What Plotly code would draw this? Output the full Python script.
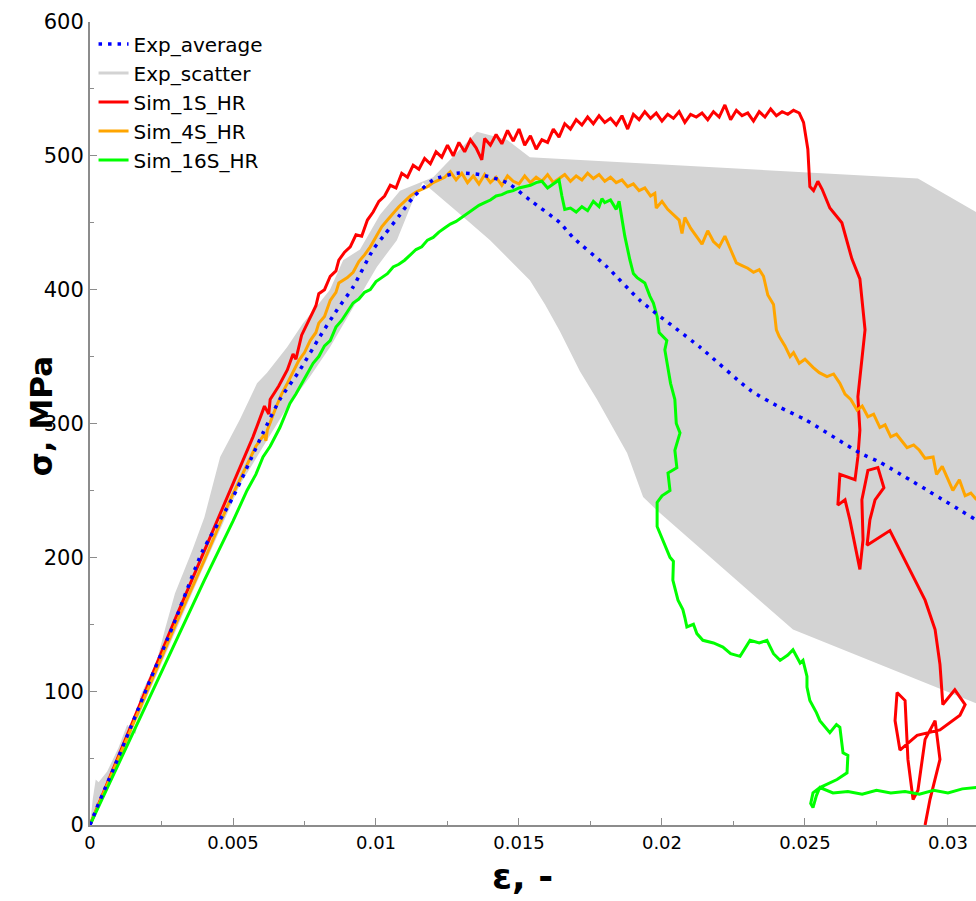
import plotly.graph_objects as go

# ---------------- data (strain [-], stress [MPa]) ----------------
avg_eps = [0, 0.00024, 0.0005, 0.001, 0.002, 0.003, 0.00392, 0.0050, 0.00605, 0.00664, 0.00734,
           0.00804, 0.00864, 0.0092, 0.0099, 0.0103, 0.01084, 0.0113, 0.0120, 0.01283, 0.01364,
           0.01458, 0.01538, 0.01643, 0.01689, 0.01808, 0.01923, 0.02133, 0.02308, 0.02413,
           0.0250, 0.02692, 0.02762, 0.03098]
avg_sig = [0, 13, 26, 51, 103, 154, 204, 245, 293, 318, 340,
           365, 385, 402, 430, 441, 456, 469, 482, 487, 486,
           480, 467, 450, 439, 417, 392, 357, 325, 312,
           303, 278, 271, 228]

sc_up_eps = [0, 0.0001, 0.0002, 0.0003, 0.0006, 0.0010, 0.0013, 0.0016, 0.00175, 0.00234, 0.00262,
             0.00297, 0.00357, 0.0040, 0.00455, 0.00524, 0.00584, 0.00619, 0.00689, 0.00745,
             0.00839, 0.00885, 0.00944, 0.01014, 0.01084, 0.01154, 0.0120, 0.01353, 0.01458,
             0.01538, 0.01713, 0.02895, 0.03098]
sc_up_sig = [0, 20, 34, 32, 40, 58, 75, 68, 96, 123, 146,
             173, 205, 230, 275, 303, 330, 338, 357, 375,
             400, 422, 430, 456, 474, 480, 484, 518, 512,
             499, 497, 483, 458]
sc_lo_eps = [0.03098, 0.02458, 0.01983, 0.01934, 0.01878, 0.01773, 0.01713, 0.01643, 0.01591,
             0.01538, 0.01399, 0.01285, 0.01164, 0.0113, 0.01073, 0.01003, 0.0092, 0.00839,
             0.00769, 0.00689, 0.00612, 0.00524, 0.00385, 0.0021, 0.0007, 0]
sc_lo_sig = [91, 146, 235, 245, 278, 318, 339, 369, 389,
             407, 437, 458, 480, 467, 437, 417, 387, 357,
             335, 312, 285, 254, 187, 101, 30, 0]

s1_eps = [0, 0.001, 0.002, 0.003, 0.004, 0.0048, 0.0057, 0.00605, 0.0061, 0.00625, 0.0063,
          0.0066, 0.0069, 0.0071, 0.0072, 0.0074, 0.0077, 0.0079, 0.0080, 0.0082, 0.0084, 0.0086,
          0.0087, 0.0089, 0.0091, 0.0093, 0.0095, 0.0097, 0.0099, 0.0101, 0.0103, 0.0105, 0.0107,
          0.0109, 0.0111, 0.0113, 0.0115, 0.0117, 0.0119, 0.0121, 0.0123, 0.0125, 0.0127, 0.0129,
          0.0131, 0.0133, 0.0135, 0.0137, 0.0138, 0.0140, 0.0142, 0.0144, 0.0146, 0.0148, 0.0150,
          0.0152, 0.0154, 0.0156, 0.0158, 0.0160, 0.0162, 0.0164, 0.0166, 0.0168, 0.0170, 0.0172,
          0.0174, 0.0176, 0.0178, 0.0180, 0.0182, 0.0184, 0.0186, 0.0188, 0.0190, 0.0192, 0.0194,
          0.0196, 0.0198, 0.0200, 0.0202, 0.0204, 0.0206, 0.0208, 0.0210, 0.0212, 0.0214, 0.0216,
          0.0218, 0.0220, 0.0222, 0.0224, 0.0226, 0.0228, 0.0230, 0.0232, 0.0234, 0.0236, 0.0238,
          0.0240, 0.0242, 0.0244, 0.0246, 0.0248, 0.02495, 0.0251, 0.02517, 0.0253, 0.02545,
          0.0256, 0.02587, 0.02629, 0.02664, 0.02692, 0.0271, 0.02699, 0.02685, 0.02692, 0.02685,
          0.02675, 0.02622, 0.02615, 0.0264, 0.02657, 0.02675, 0.02692, 0.02703, 0.02699, 0.0272,
          0.02755, 0.02776, 0.02745, 0.02727, 0.02717, 0.02797, 0.02878, 0.0292, 0.02955, 0.02972,
          0.02982, 0.03024, 0.0306, 0.03042, 0.02972, 0.02892, 0.02832, 0.02815, 0.02822, 0.0285,
          0.0286, 0.02878, 0.02895, 0.0292, 0.02955, 0.02972, 0.02937, 0.0292]
s1_sig = [0, 52, 104, 155, 205, 245, 290, 310, 313, 307, 318,
          328, 340, 352, 348, 366, 380, 388, 397, 400, 410, 414,
          422, 428, 432, 441, 440, 452, 458, 466, 470, 478, 476,
          487, 484, 493, 490, 498, 494, 503, 499, 508, 500, 510,
          503, 512, 506, 497, 513, 508, 516, 509, 519, 511, 520,
          508, 515, 505, 512, 510, 520, 514, 524, 520, 527, 523,
          529, 524, 530, 525, 528, 523, 530, 520, 531, 527, 533,
          528, 532, 526, 531, 528, 533, 525, 531, 529, 532, 527,
          533, 529, 538, 527, 534, 530, 532, 526, 533, 529, 535,
          530, 533, 531, 534, 532, 525, 505, 477, 474, 481,
          475, 461, 450, 423, 408, 370, 347, 320, 295, 275,
          258, 262, 239, 243, 228, 209, 191, 213, 243, 265,
          267, 252, 243, 228, 209, 220, 185, 168, 146, 120,
          90, 101, 90, 82, 71, 67, 56, 78, 99, 93,
          49, 19, 26, 64, 78, 49, 19, 0]

s4_eps = [0, 0.001, 0.002, 0.003, 0.004, 0.0049, 0.0058, 0.0061, 0.00615, 0.0062, 0.0065,
          0.0067, 0.0069, 0.0071, 0.0073, 0.0075, 0.0077, 0.0079, 0.0080, 0.0082, 0.0084, 0.0086,
          0.0087, 0.0090, 0.0092, 0.0094, 0.0096, 0.0098, 0.0100, 0.0102, 0.0104, 0.0106, 0.0108,
          0.0110, 0.0112, 0.0114, 0.0116, 0.0118, 0.0120, 0.0122, 0.0124, 0.0126, 0.0128, 0.0130,
          0.0132, 0.0134, 0.0136, 0.0138, 0.0140, 0.0142, 0.0144, 0.0146, 0.0148, 0.0150, 0.0152,
          0.0154, 0.0156, 0.0158, 0.0160, 0.0162, 0.0164, 0.0166, 0.0168, 0.0170, 0.0172, 0.0174,
          0.0176, 0.0178, 0.0180, 0.0182, 0.0184, 0.0186, 0.0188, 0.0190, 0.0192, 0.0194, 0.0196,
          0.01975, 0.0198, 0.0200, 0.0202, 0.0204, 0.0206, 0.0207, 0.0208, 0.0210, 0.0212, 0.0214,
          0.0216, 0.0218, 0.0220, 0.0222, 0.0224, 0.0226, 0.0228, 0.0230, 0.0232, 0.0234, 0.02355,
          0.0237, 0.0239, 0.0240, 0.0241, 0.0243, 0.02448, 0.0246, 0.0248, 0.0250, 0.02528, 0.0255,
          0.02577, 0.0260, 0.02622, 0.0264, 0.0266, 0.02682, 0.0270, 0.0272, 0.0274, 0.02762,
          0.0278, 0.0280, 0.0282, 0.02857, 0.0288, 0.0290, 0.0292, 0.02948, 0.0296, 0.0298,
          0.03017, 0.0304, 0.0306, 0.0308, 0.0310]
s4_sig = [0, 50, 100, 150, 198, 243, 283, 292, 287, 295, 312,
          322, 330, 338, 347, 353, 362, 368, 375, 380, 392, 398,
          405, 409, 413, 421, 426, 432, 440, 447, 452, 457, 462,
          466, 470, 473, 475, 477, 480, 482, 484, 488, 482, 487,
          480, 485, 479, 486, 480, 484, 478, 485, 481, 479, 485,
          480, 484, 481, 486, 480, 483, 486, 481, 485, 482, 487,
          483, 486, 481, 484, 480, 482, 477, 479, 474, 476, 470,
          472, 461, 466, 460, 456, 452, 442, 454, 446, 440, 434,
          444, 436, 432, 440, 430, 420, 418, 416, 413, 415, 410,
          396, 389, 370, 365, 358, 350, 353, 345, 348, 342, 338,
          335, 337, 330, 322, 318, 310, 313, 305, 307, 297,
          299, 290, 292, 282, 284, 280, 274, 275, 262, 268,
          250, 258, 246, 248, 243]

s16_eps = [0, 0.001, 0.002, 0.003, 0.004, 0.0045, 0.0050, 0.00549, 0.0058, 0.00605, 0.0063,
           0.00664, 0.0068, 0.00699, 0.0072, 0.00745, 0.0076, 0.0078, 0.0080, 0.0082, 0.0084,
           0.0086, 0.0088, 0.0090, 0.0092, 0.0094, 0.0096, 0.0098, 0.0100, 0.0102, 0.0104, 0.0106,
           0.0108, 0.0110, 0.0112, 0.0114, 0.0116, 0.0118, 0.0120, 0.0122, 0.0124, 0.0126, 0.0128,
           0.0130, 0.0132, 0.0134, 0.0136, 0.0138, 0.0140, 0.0142, 0.0144, 0.0146, 0.0148, 0.0150,
           0.0152, 0.0154, 0.0156, 0.0158, 0.0160, 0.0162, 0.0164, 0.0165, 0.0166, 0.0168, 0.0170,
           0.0172, 0.0174, 0.0176, 0.0178, 0.0179, 0.0180, 0.0182, 0.0184, 0.0185, 0.01864, 0.0187,
           0.01888, 0.0190, 0.01913, 0.0194, 0.01958, 0.0197, 0.01983, 0.0199, 0.02017, 0.0201,
           0.0203, 0.02045, 0.0205, 0.02063, 0.02045, 0.02052, 0.02021, 0.02028, 0.0200, 0.01983,
           0.01983, 0.02003, 0.02028, 0.0204, 0.02038, 0.02056, 0.02073, 0.0208, 0.02087, 0.0211,
           0.02122, 0.02143, 0.0218, 0.02213, 0.0224, 0.02273, 0.0229, 0.02308, 0.0234, 0.02367,
           0.0239, 0.02413, 0.0244, 0.02458, 0.02483, 0.02493, 0.02507, 0.02507, 0.02517, 0.0254,
           0.02552, 0.02587, 0.0261, 0.02622, 0.02633, 0.0265, 0.02647, 0.02612, 0.02552, 0.02528,
           0.0252, 0.02528, 0.0254, 0.02552, 0.02598, 0.0265, 0.0270, 0.0275, 0.0280, 0.0285,
           0.0290, 0.0295, 0.0300, 0.0305, 0.0310]
s16_sig = [0, 46, 92, 138, 183, 205, 227, 250, 262, 275, 283,
           297, 305, 315, 322, 332, 337, 345, 350, 358, 362,
           372, 377, 384, 390, 393, 398, 400, 406, 409, 412, 417,
           419, 422, 426, 430, 432, 437, 439, 443, 446, 449, 451,
           454, 457, 460, 463, 465, 467, 470, 471, 473, 474, 476,
           477, 478, 480, 481, 476, 479, 482, 470, 460, 461, 458,
           462, 459, 466, 462, 468, 465, 467, 460, 466, 447, 440,
           422, 412, 409, 405, 395, 390, 380, 368, 362, 355,
           330, 318, 300, 293, 280, 267, 263, 250, 246, 241,
           223, 213, 200, 197, 183, 168, 161, 155, 148, 150,
           143, 138, 136, 133, 128, 126, 132, 138, 136, 138,
           128, 123, 127, 131, 121, 123, 111, 103, 93, 84,
           78, 69, 75, 73, 54, 52, 39, 34, 28, 24,
           16, 13, 22, 28, 24, 25, 23, 26, 24, 25,
           23, 26, 24, 27, 28]

x_ticks = [0, 0.005, 0.01, 0.015, 0.02, 0.025, 0.03]
x_tick_labels = ["0", "0.005", "0.01", "0.015", "0.02", "0.025", "0.03"]
y_ticks = [0, 100, 200, 300, 400, 500, 600]

# ---------------- figure ----------------
GRAY = "#d3d3d3"
AXC = "#8c8c8c"
fig = go.Figure()

fig.add_trace(go.Scatter(
    x=sc_up_eps + sc_lo_eps, y=sc_up_sig + sc_lo_sig,
    mode="lines", fill="toself", fillcolor=GRAY,
    line=dict(width=0, color=GRAY), showlegend=False, hoverinfo="skip"))
fig.add_trace(go.Scatter(x=[None], y=[None], mode="lines", name="Exp_scatter",
                         line=dict(color=GRAY, width=3), legendrank=2))
fig.add_trace(go.Scatter(x=s1_eps, y=s1_sig, mode="lines", name="Sim_1S_HR",
                         line=dict(color="#ff0000", width=3), legendrank=3))
fig.add_trace(go.Scatter(x=s4_eps, y=s4_sig, mode="lines", name="Sim_4S_HR",
                         line=dict(color="#ffa500", width=3), legendrank=4))
fig.add_trace(go.Scatter(x=s16_eps, y=s16_sig, mode="lines", name="Sim_16S_HR",
                         line=dict(color="#00ff00", width=3), legendrank=5))
fig.add_trace(go.Scatter(x=avg_eps, y=avg_sig, mode="lines", name="Exp_average",
                         line=dict(color="#0000ff", width=3.5, dash="3.5px,6px",
                                   shape="spline", smoothing=0.6),
                         legendrank=1))

axis_common = dict(showgrid=False, zeroline=False, showline=True, linecolor=AXC,
                   linewidth=2, ticks="inside", tickcolor=AXC, ticklen=7, tickwidth=1,
                   mirror=False)

fig.update_layout(
    width=976, height=901,
    margin=dict(l=90, r=0, t=22, b=76),
    paper_bgcolor="white", plot_bgcolor="white",
    font=dict(family="DejaVu Sans", color="black"),
    legend=dict(x=0.004, y=0.997, xanchor="left", yanchor="top",
                bgcolor="rgba(255,255,255,0)", borderwidth=0,
                font=dict(family="DejaVu Sans", size=20, color="black"),
                tracegroupgap=0),
    xaxis=dict(range=[0, 0.03098], tickvals=x_ticks, ticktext=x_tick_labels,
               tickfont=dict(family="DejaVu Sans", size=18),
               ticklabelstandoff=0,
               minor=dict(dtick=0.0025, ticks="inside", ticklen=4, tickcolor=AXC),
               **axis_common),
    yaxis=dict(range=[0, 600], tickvals=y_ticks,
               tickfont=dict(family="DejaVu Sans", size=21),
               minor=dict(dtick=50, ticks="inside", ticklen=4, tickcolor=AXC),
               **axis_common),
    annotations=[
        dict(text="<b>σ, MPa</b>", xref="paper", yref="paper", x=-0.0553, y=0.509,
             textangle=-90, xanchor="center", yanchor="middle", showarrow=False,
             font=dict(family="DejaVu Sans", size=31, color="black")),
        dict(text="<b>ε, -</b>", xref="paper", yref="paper", x=0.4887, y=-0.064,
             xanchor="center", yanchor="middle", showarrow=False,
             font=dict(family="DejaVu Sans", size=36, color="black")),
    ],
)

fig.write_html(
    "out.html",
    config={"displayModeBar": False},
    post_script="document.body.style.margin='0';document.body.style.overflow='hidden';",
)
